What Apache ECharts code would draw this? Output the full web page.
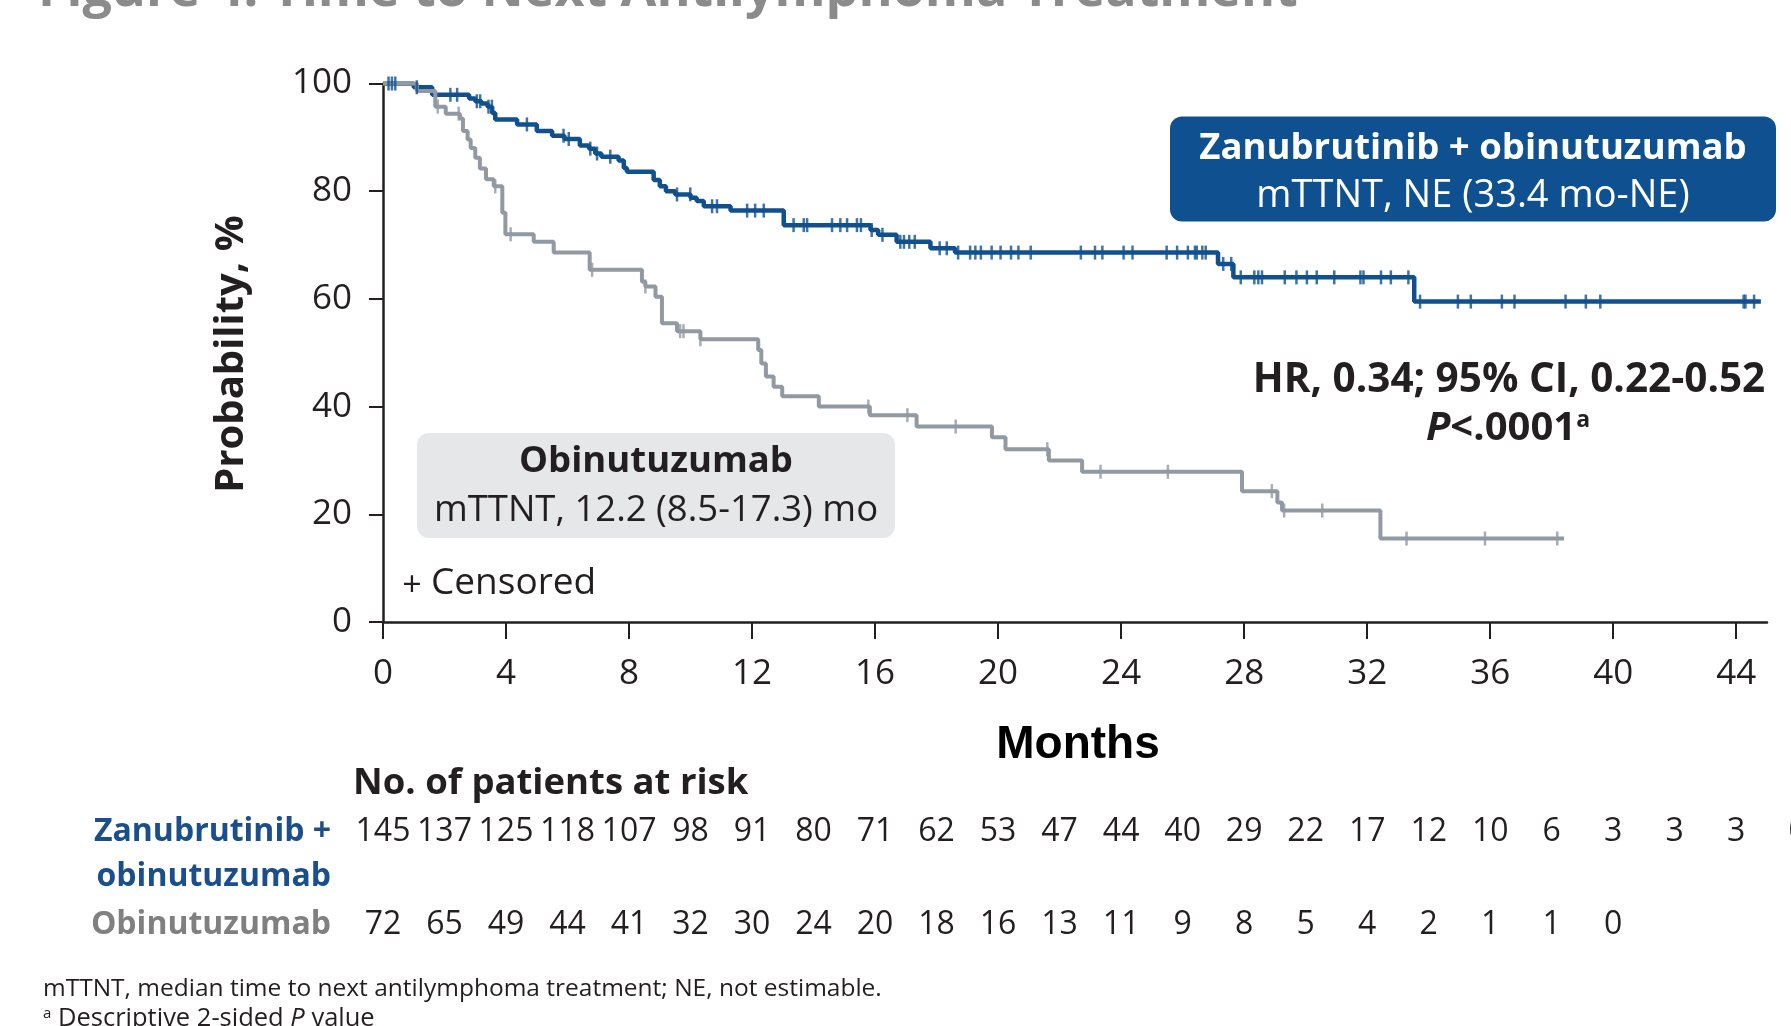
<!DOCTYPE html>
<html><head><meta charset="utf-8">
<script src="https://cdn.jsdelivr.net/npm/echarts@6/dist/echarts.min.js"></script>
<style>html,body{margin:0;padding:0;background:#fff;overflow:hidden}#c{width:1791px;height:1026px}</style>
</head><body><div id="c"></div>
<script>
// ---------- data ----------
const xTicks = [0, 4, 8, 12, 16, 20, 24, 28, 32, 36, 40, 44];
const yTicks = [0, 20, 40, 60, 80, 100];

const zanuTimes = [0, 1.0, 1.6, 2.8, 3.0, 3.2, 3.4, 3.55, 3.65, 4.36, 5.0, 5.5, 5.9, 6.4, 6.7, 6.9, 7.1, 7.66, 7.83, 7.93, 8.8, 9.0, 9.2, 9.5, 10.0, 10.2, 10.43, 11.3, 13.03, 15.85, 16.1, 16.7, 17.8, 18.6, 27.15, 27.65, 33.53, 44.8];
const zanuSurv  = [100, 99.3, 97.9, 97.2, 96.7, 96.3, 95.7, 94.5, 93.3, 92.4, 91.2, 90.3, 89.7, 88.5, 87.9, 87.0, 86.4, 85.7, 84.3, 83.6, 82.1, 80.9, 80.0, 79.4, 78.8, 78.2, 77.2, 76.4, 73.7, 72.8, 71.9, 70.6, 69.4, 68.6, 66.5, 64.0, 59.5, 59.5];

const obiTimes = [0, 1.1, 1.7, 2.04, 2.5, 2.6, 2.75, 2.85, 3.0, 3.15, 3.35, 3.6, 3.88, 3.98, 4.9, 5.55, 6.72, 8.42, 8.53, 8.86, 9.07, 9.56, 10.32, 12.2, 12.3, 12.45, 12.7, 12.98, 14.17, 15.83, 17.35, 19.8, 20.24, 21.65, 22.73, 27.93, 29.08, 29.23, 32.43, 38.4];
const obiSurv  = [100, 98.6, 95.7, 94.4, 93.5, 91.2, 89.6, 88.0, 86.2, 84.2, 82.2, 80.9, 76.0, 72.0, 70.6, 68.6, 65.4, 63.2, 62.3, 60.4, 55.5, 54.0, 52.5, 50.5, 48.0, 45.6, 43.7, 41.9, 40.0, 38.4, 36.3, 34.3, 32.1, 30.0, 27.9, 24.3, 22.2, 20.7, 15.5, 15.5];

const zanuCensored = [0.18, 0.29, 0.4, 1.1, 2.19, 2.41, 3.05, 3.16, 3.43, 3.54, 4.68, 5.87, 6.04, 6.74, 6.96, 7.39, 9.56, 9.99, 10.7, 10.86, 11.84, 12.1, 12.38, 13.35, 13.68, 13.79, 14.6, 14.87, 15.09, 15.41, 15.54, 15.89, 16.24, 16.82, 16.94, 17.11, 17.29, 18.1, 18.33, 18.7, 19.09, 19.26, 19.44, 19.79, 20.08, 20.42, 20.66, 21.06, 22.69, 23.15, 23.39, 24.08, 24.37, 25.48, 25.82, 26.17, 26.4, 26.46, 26.64, 26.75, 27.32, 27.58, 27.89, 28.33, 28.46, 28.58, 29.32, 29.7, 30.04, 30.36, 30.93, 31.78, 31.88, 32.45, 32.77, 33.34, 33.72, 34.95, 35.37, 36.38, 36.79, 38.45, 39.11, 39.58, 44.24, 44.3, 44.58];
const obiCensored = [1.78, 2.46, 3.65, 4.15, 6.8, 8.53, 9.66, 9.77, 10.32, 15.78, 17.05, 18.62, 21.6, 23.33, 25.52, 28.9, 29.3, 30.54, 33.28, 35.83, 38.18];

const riskMonths = [0, 2, 4, 6, 8, 10, 12, 14, 16, 18, 20, 22, 24, 26, 28, 30, 32, 34, 36, 38, 40, 42, 44, 46];
const zanuAtRisk = [145, 137, 125, 118, 107, 98, 91, 80, 71, 62, 53, 47, 44, 40, 29, 22, 17, 12, 10, 6, 3, 3, 3, 0];
const obiAtRisk  = [72, 65, 49, 44, 41, 32, 30, 24, 20, 18, 16, 13, 11, 9, 8, 5, 4, 2, 1, 1, 0];

// ---------- styling ----------
const BLUE = '#10508f';
const GREY = '#9199a3';
const DARK = '#231f20';
const FONT = "'Open Sans', sans-serif";

function survAt(times, surv, t) {
  let v = surv[0];
  for (let i = 0; i < times.length; i++) if (times[i] <= t) v = surv[i];
  return v;
}
const zanuLine = zanuTimes.map((t, i) => [t, zanuSurv[i]]);
const obiLine = obiTimes.map((t, i) => [t, obiSurv[i]]);
const zanuCens = zanuCensored.map(t => [t, survAt(zanuTimes, zanuSurv, t)]);
const obiCens = obiCensored.map(t => [t, survAt(obiTimes, obiSurv, t)]);

const chart = echarts.init(document.getElementById('c'), null, {renderer: 'canvas'});
chart.setOption({
  animation: false,
  backgroundColor: '#ffffff',
  grid: {left: 383, top: 83.5, width: 1384, height: 538.5, containLabel: false},
  xAxis: {
    type: 'value', min: 0, max: 45, interval: 4,
    axisLine: {show: true, lineStyle: {color: DARK, width: 2.5}},
    axisTick: {show: true, length: 17, customValues: xTicks, lineStyle: {color: DARK, width: 2}},
    axisLabel: {customValues: xTicks, margin: 35, color: DARK, fontFamily: FONT, fontSize: 35, lineHeight: 35},
    splitLine: {show: false}
  },
  yAxis: {
    type: 'value', min: 0, max: 100, interval: 20,
    axisLine: {show: true, lineStyle: {color: DARK, width: 2.5}},
    axisTick: {show: true, length: 14, customValues: yTicks, lineStyle: {color: DARK, width: 2}},
    axisLabel: {customValues: yTicks, margin: 31, color: DARK, fontFamily: FONT, fontSize: 35},
    splitLine: {show: false}
  },
  series: [
    {type: 'line', step: 'end', data: zanuLine, symbol: 'none', z: 2,
     lineStyle: {color: BLUE, width: 4.5}},
    {type: 'line', step: 'end', data: obiLine, symbol: 'none', z: 3,
     lineStyle: {color: GREY, width: 4}},
    {type: 'scatter', data: zanuCens, symbol: 'rect', symbolSize: [2.5, 14], z: 4,
     itemStyle: {color: BLUE}},
    {type: 'scatter', data: obiCens, symbol: 'rect', symbolSize: [2.5, 14], z: 5,
     itemStyle: {color: GREY}}
  ]
});

// ---------- annotations ----------
function txt(x, y, text, opt) {
  return Object.assign({type: 'text', x: x, y: y, silent: true, z: 100,
    style: Object.assign({text: text, fontFamily: FONT, fontSize: 33, fontWeight: 'normal', fill: DARK,
      align: 'center', verticalAlign: 'middle', textAlign: 'center', textVerticalAlign: 'middle'}, opt.style || {})},
    opt.el || {});
}

const g = [];
// cut-off title
g.push(txt(38, -9, 'Figure 4: Time to Next Antilymphoma Treatment',
  {style: {fontSize: 52, fontWeight: 'bold', fill: '#8b8b8b', align: 'left', textAlign: 'left'}}));

// y axis name
g.push(txt(232, 354, 'Probability, %', {style: {fontSize: 40, fontWeight: 'bold'}, el: {rotation: Math.PI / 2}}));
// x axis name
g.push(txt(1078, 745.5, 'Months', {style: {fontSize: 46, fontWeight: 'bold', fontFamily: "'Liberation Sans', Arial, sans-serif", fill: '#000'}}));

// blue box
g.push({type: 'rect', silent: true, z: 90, shape: {x: 1170, y: 116.5, width: 606, height: 105, r: 12}, style: {fill: '#0f5190'}});
g.push(txt(1473, 148.5, 'Zanubrutinib + obinutuzumab', {style: {fontSize: 36.5, fontWeight: 'bold', fill: '#fff'}}));
g.push(txt(1473, 196.5, 'mTTNT, NE (33.4 mo-NE)', {style: {fontSize: 38, fill: '#fff'}}));

// grey box
g.push({type: 'rect', silent: true, z: 90, shape: {x: 417, y: 433, width: 478, height: 105, r: 12}, style: {fill: '#e6e7e8'}});
g.push(txt(656, 462, 'Obinutuzumab', {style: {fontSize: 36.5, fontWeight: 'bold'}}));
g.push(txt(656, 511, 'mTTNT, 12.2 (8.5-17.3) mo', {style: {fontSize: 36.5}}));

// censored legend
g.push(txt(412, 586, '+', {style: {fontSize: 34}}));
g.push(txt(431, 583, 'Censored', {style: {fontSize: 37, align: 'left', textAlign: 'left'}}));

// HR text
g.push(txt(1509, 380, 'HR, 0.34; 95% CI, 0.22-0.52', {style: {fontSize: 40.5, fontWeight: 'bold'}}));
g.push(txt(1508, 429, '{p|P}{b|<.0001}{s|a}', {style: {fontSize: 40, fontWeight: 'bold',
  rich: {
    p: {fontFamily: FONT, fontSize: 40, fontWeight: 'bold', fontStyle: 'italic', fill: DARK},
    b: {fontFamily: FONT, fontSize: 40, fontWeight: 'bold', fill: DARK},
    s: {fontFamily: FONT, fontSize: 23, fontWeight: 'bold', fill: DARK, verticalAlign: 'top', padding: [0, 0, 16, 0]}
  }}}));

// at-risk table
g.push(txt(353, 784, 'No. of patients at risk', {style: {fontSize: 36.5, fontWeight: 'bold', align: 'left', textAlign: 'left'}}));
g.push(txt(331, 832, 'Zanubrutinib +', {style: {fontSize: 32, fontWeight: 'bold', fill: '#1a4f8b', align: 'right', textAlign: 'right'}}));
g.push(txt(331, 877, 'obinutuzumab', {style: {fontSize: 32, fontWeight: 'bold', fill: '#1a4f8b', align: 'right', textAlign: 'right'}}));
g.push(txt(331, 925, 'Obinutuzumab', {style: {fontSize: 32, fontWeight: 'bold', fill: '#808080', align: 'right', textAlign: 'right'}}));

zanuAtRisk.forEach((n, i) => {
  const px = chart.convertToPixel({gridIndex: 0}, [riskMonths[i], 0])[0];
  g.push(txt(px, 832, String(n), {style: {fontSize: 32}}));
});
obiAtRisk.forEach((n, i) => {
  const px = chart.convertToPixel({gridIndex: 0}, [riskMonths[i], 0])[0];
  g.push(txt(px, 925, String(n), {style: {fontSize: 32}}));
});

// footnotes
g.push(txt(43, 989, 'mTTNT, median time to next antilymphoma treatment; NE, not estimable.', {style: {fontSize: 24.5, align: 'left', textAlign: 'left'}}));
g.push(txt(43, 1019, '{s|a} Descriptive 2-sided {i|P} value', {style: {fontSize: 25.5, align: 'left', textAlign: 'left',
  rich: {
    s: {fontFamily: FONT, fontSize: 15, fill: DARK, verticalAlign: 'top', padding: [0, 0, 9, 0]},
    i: {fontFamily: FONT, fontSize: 25.5, fontStyle: 'italic', fill: DARK}
  }}}));

chart.setOption({graphic: {elements: g}});
</script>
</body></html>
